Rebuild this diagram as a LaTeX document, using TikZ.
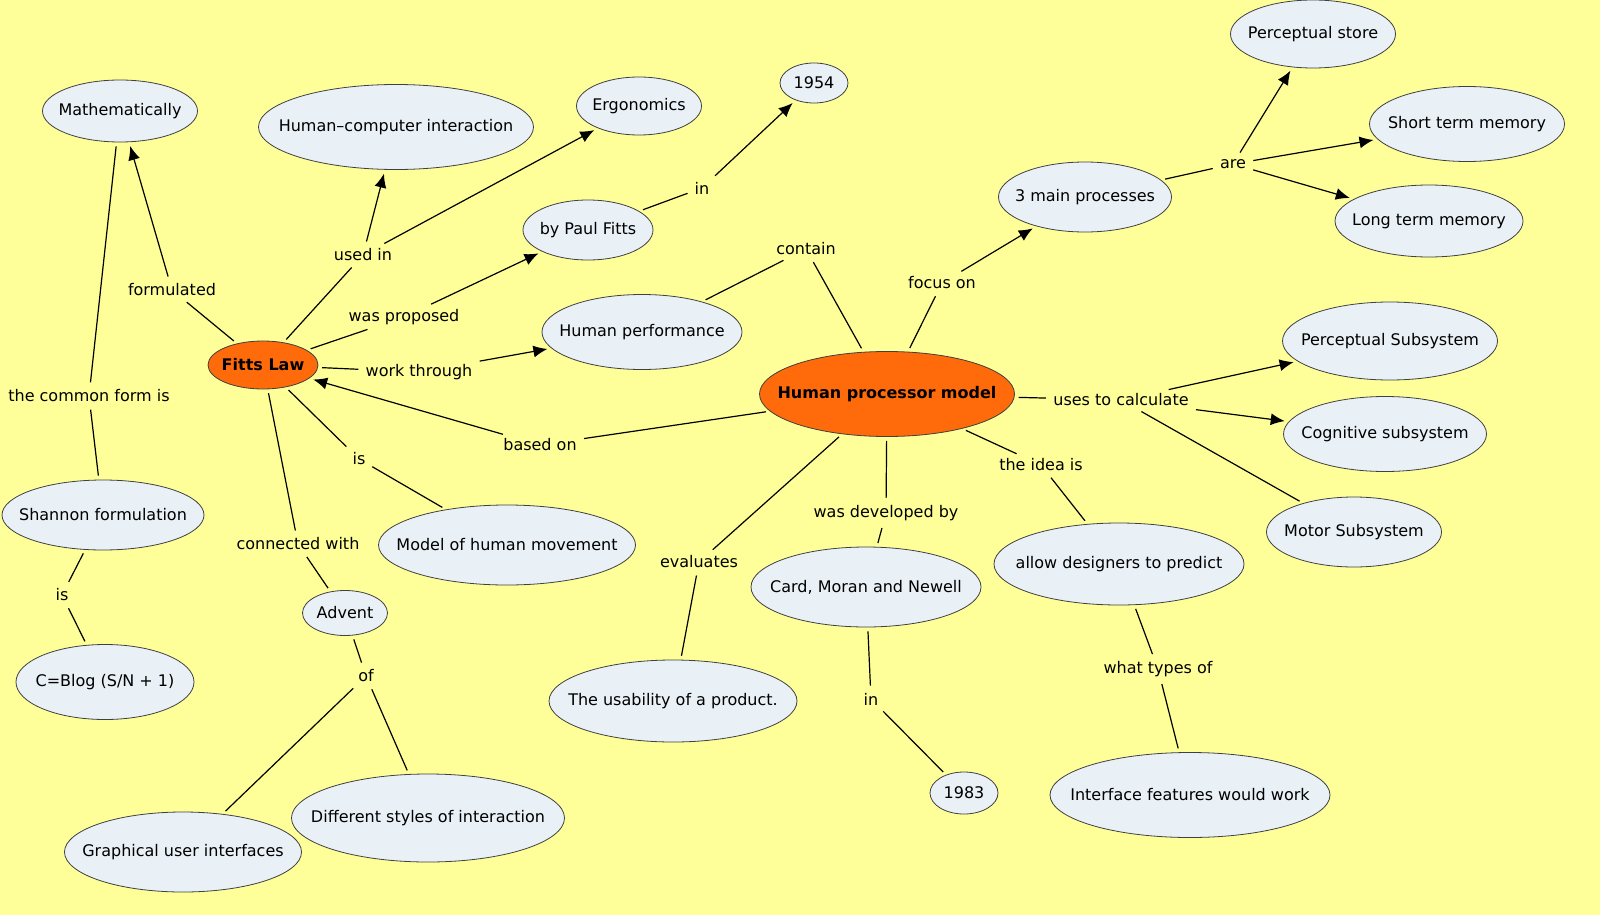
\documentclass[tikz,border=0pt]{standalone}
\usepackage{fontspec}
\setmainfont{DejaVu Sans}
\usetikzlibrary{shapes.geometric,arrows.meta}
\definecolor{bg}{HTML}{FFFF99}
\definecolor{nb}{HTML}{E9F1F7}
\definecolor{or}{HTML}{FF6A0A}
\begin{document}
\begin{tikzpicture}[x=0.5pt,y=-0.5pt,font=\fontsize{8}{10}\selectfont,
  n/.style n args={3}{ellipse,draw=black!75,fill=nb,inner sep=0pt,minimum width=#1*0.5pt,minimum height=#2*0.5pt,node contents={\makebox[0pt]{#3}}},
  o/.style n args={3}{n={#1}{#2}{\bfseries #3},fill=or},
  l/.style={inner sep=1.5pt},
  ln/.style={draw,line width=0.6pt,shorten <=2pt,shorten >=2pt},
  ar/.style={ln,-{Latex[length=7pt,width=6pt]}}]
\fill[bg] (0,0) rectangle (1600,915);
\useasboundingbox (0,0) rectangle (1600,915);
% nodes
\node (math) at (120,111) [n={155}{62}{Mathematically}];
\node (hci) at (396,127) [n={275}{85}{Human–computer interaction}];
\node (erg) at (639,106) [n={125}{58}{Ergonomics}];
\node (y54) at (814,83) [n={68}{40}{1954}];
\node (ps) at (1313,34) [n={165}{68}{Perceptual store}];
\node (stm) at (1467,124) [n={195}{75}{Short term memory}];
\node (mp) at (1085,197) [n={173}{70}{3 main processes}];
\node (ltm) at (1429,221) [n={188}{72}{Long term memory}];
\node (paul) at (588,230) [n={130}{60}{by Paul Fitts}];
\node (hp) at (642,332) [n={200}{75}{Human performance}];
\node (psub) at (1390,341) [n={215}{78}{Perceptual Subsystem}];
\node (fitts) at (263,365) [o={110}{48}{Fitts Law}];
\node (hpm) at (887,394) [o={255}{85}{Human processor model}];
\node (cog) at (1385,434) [n={203}{75}{Cognitive subsystem}];
\node (shan) at (103,515) [n={202}{70}{Shannon formulation}];
\node (mhm) at (507,545) [n={257}{80}{Model of human movement}];
\node (mot) at (1354,532) [n={175}{70}{Motor Subsystem}];
\node (allow) at (1119,564) [n={250}{82}{allow designers to predict}];
\node (card) at (866,587) [n={230}{80}{Card, Moran and Newell}];
\node (adv) at (345,613) [n={85}{45}{Advent}];
\node (cb) at (105,682) [n={178}{75}{C=Blog (S/N + 1)}];
\node (use) at (673,701) [n={248}{82}{The usability of a product.}];
\node (y83) at (964,793) [n={68}{42}{1983}];
\node (ifw) at (1190,795) [n={280}{85}{Interface features would work}];
\node (dsi) at (428,818) [n={273}{88}{Different styles of interaction}];
\node (gui) at (183,852) [n={237}{80}{Graphical user interfaces}];
% labels
\node[l] (Lform) at (172,290) {formulated};
\node[l] (Lcommon) at (89,396) {the common form is};
\node[l] (Lused) at (363,255) {used in};
\node[l] (Lprop) at (404,317) {was proposed};
\node[l] (Lwork) at (419,372) {work through};
\node[l] (Lin1) at (702,188) {in};
\node[l] (Lcont) at (806,249) {contain};
\node[l] (Lbased) at (540,445) {based on};
\node[l] (Lis1) at (359,459) {is};
\node[l] (Lconn) at (298,544) {connected with};
\node[l] (Lof) at (366,676) {of};
\node[l] (Lis2) at (62,595) {is};
\node[l] (Lfocus) at (942,283) {focus on};
\node[l] (Lare) at (1233,164) {are};
\node[l] (Luses) at (1121,400) {uses to calculate};
\node[l] (Lidea) at (1041,465) {the idea is};
\node[l] (Ldev) at (886,513) {was developed by};
\node[l] (Leval) at (699,562) {evaluates};
\node[l] (Lin2) at (871,699) {in};
\node[l] (Lwhat) at (1158,669) {what types of};
% connectors
\draw[ln] (fitts) -- (Lform); \draw[ar] (Lform) -- (math);
\draw[ln] (shan) -- (Lcommon); \draw[ln] (Lcommon) -- (math);
\draw[ln] (fitts) -- (Lused); \draw[ar] (Lused) -- (hci); \draw[ar] (Lused) -- (erg);
\draw[ln] (fitts) -- (Lprop); \draw[ar] (Lprop) -- (paul);
\draw[ln] (paul) -- (Lin1); \draw[ar] (Lin1) -- (y54);
\draw[ln] (fitts) -- (Lwork); \draw[ar] (Lwork) -- (hp);
\draw[ln] (hp) -- (Lcont); \draw[ln] (Lcont) -- (hpm);
\draw[ln] (hpm) -- (Lbased); \draw[ar] (Lbased) -- (fitts);
\draw[ln] (fitts) -- (Lis1); \draw[ln] (Lis1) -- (mhm);
\draw[ln] (fitts) -- (Lconn); \draw[ln] (Lconn) -- (adv);
\draw[ln] (adv) -- (Lof); \draw[ln] (Lof) -- (gui); \draw[ln] (Lof) -- (dsi);
\draw[ln] (shan) -- (Lis2); \draw[ln] (Lis2) -- (cb);
\draw[ln] (hpm) -- (Lfocus); \draw[ar] (Lfocus) -- (mp);
\draw[ln] (mp) -- (Lare); \draw[ar] (Lare) -- (ps); \draw[ar] (Lare) -- (stm); \draw[ar] (Lare) -- (ltm);
\draw[ln] (hpm) -- (Luses); \draw[ar] (Luses) -- (psub); \draw[ar] (Luses) -- (cog); \draw[ln] (Luses) -- (mot);
\draw[ln] (hpm) -- (Lidea); \draw[ln] (Lidea) -- (allow);
\draw[ln] (hpm) -- (Ldev); \draw[ln] (Ldev) -- (card);
\draw[ln] (hpm) -- (Leval); \draw[ln] (Leval) -- (use);
\draw[ln] (card) -- (Lin2); \draw[ln] (Lin2) -- (y83);
\draw[ln] (allow) -- (Lwhat); \draw[ln] (Lwhat) -- (ifw);
\end{tikzpicture}
\end{document}
